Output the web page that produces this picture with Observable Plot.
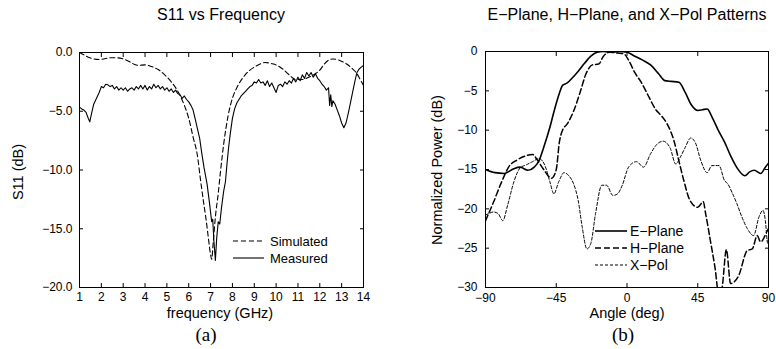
<!DOCTYPE html>
<html>
<head>
<meta charset="utf-8">
<script src="https://cdn.jsdelivr.net/npm/d3@7"></script>
<script src="https://cdn.jsdelivr.net/npm/@observablehq/plot@0.6"></script>
<style>
  html, body { margin: 0; padding: 0; background: #fff; }
  #wrap { position: relative; width: 776px; height: 349px; overflow: hidden; font-family: "Liberation Sans", Arial, Helvetica, sans-serif; color: #000; }
  .t { position: absolute; white-space: nowrap; line-height: 1; }
</style>
</head>
<body>
<div id="wrap">
  <div id="left" style="position:absolute;left:0;top:0"></div>
  <div id="right" style="position:absolute;left:390px;top:0"></div>
</div>
<script>
// ---------- Panel (a): S11 vs Frequency ----------
const measFreq = [1.0,1.1,1.2,1.3,1.4,1.47,1.55,1.65,1.8,1.9,2.0,2.1,2.2,2.3,2.4,2.5,2.6,2.7,2.8,2.9,3.0,3.1,3.2,3.3,3.4,3.5,3.6,3.7,3.8,3.9,4.0,4.1,4.2,4.3,4.4,4.5,4.6,4.7,4.8,4.9,5.0,5.1,5.2,5.3,5.4,5.5,5.6,5.7,5.8,5.9,6.0,6.1,6.2,6.3,6.4,6.5,6.6,6.7,6.8,6.84,6.95,7.05,7.1,7.15,7.22,7.28,7.35,7.42,7.5,7.6,7.68,7.75,7.83,7.91,8.0,8.1,8.2,8.3,8.4,8.5,8.6,8.7,8.8,8.9,9.0,9.1,9.2,9.3,9.4,9.5,9.6,9.7,9.8,9.9,10.0,10.1,10.2,10.3,10.4,10.5,10.6,10.7,10.8,10.9,11.0,11.1,11.2,11.3,11.4,11.5,11.6,11.7,11.8,11.9,12.0,12.1,12.2,12.3,12.4,12.45,12.5,12.55,12.6,12.7,12.8,12.9,13.0,13.1,13.2,13.3,13.4,13.5,13.6,13.7,13.8,13.9,14.0];
const measured = [-4.65,-4.8,-4.9,-5.1,-5.6,-5.9,-5.2,-4.4,-3.8,-3.4,-2.9,-3.0,-2.7,-2.75,-2.9,-2.8,-3.1,-2.9,-3.2,-3.0,-3.2,-3.0,-3.3,-3.1,-3.0,-3.2,-2.9,-3.1,-2.8,-3.1,-2.8,-3.2,-2.9,-3.1,-2.7,-3.0,-2.8,-3.1,-2.9,-3.2,-3.0,-3.3,-3.1,-3.4,-3.2,-3.5,-3.6,-3.9,-3.7,-4.0,-4.2,-4.5,-4.9,-5.7,-6.5,-7.3,-8.6,-9.8,-10.8,-11.2,-12.8,-14.4,-14.2,-16.0,-17.7,-15.8,-14.4,-14.6,-13.2,-11.8,-11.0,-9.5,-8.0,-6.8,-5.6,-4.8,-4.3,-4.0,-3.7,-3.5,-3.3,-3.1,-2.9,-2.8,-2.5,-2.6,-2.3,-2.6,-2.5,-2.8,-2.4,-2.9,-2.6,-3.0,-3.4,-2.8,-2.7,-2.9,-2.5,-2.7,-2.4,-2.6,-2.2,-2.5,-2.1,-2.4,-1.9,-2.2,-1.7,-2.0,-1.7,-2.1,-1.8,-2.2,-2.4,-2.7,-2.9,-3.2,-3.0,-4.5,-3.6,-4.6,-4.1,-4.4,-4.9,-5.4,-6.0,-6.4,-6.0,-5.2,-4.3,-3.4,-2.5,-1.7,-1.4,-1.25,-1.1];

const simFreq = [1.0,1.2,1.4,1.65,1.9,2.1,2.4,2.7,3.0,3.2,3.5,3.7,4.0,4.3,4.6,4.9,5.2,5.5,5.8,6.0,6.2,6.4,6.55,6.7,6.8,6.9,7.0,7.05,7.12,7.22,7.35,7.45,7.6,7.8,7.95,8.2,8.5,8.8,9.0,9.3,9.5,9.8,10.05,10.3,10.6,10.9,11.2,11.5,11.8,12.0,12.2,12.4,12.6,12.8,13.0,13.25,13.5,13.7,13.85,14.0];
const simulated = [0.0,-0.2,-0.4,-0.55,-0.6,-0.55,-0.45,-0.45,-0.55,-0.7,-1.0,-1.1,-1.05,-1.2,-1.45,-1.9,-2.5,-3.3,-4.5,-5.6,-7.2,-8.8,-11.0,-13.0,-14.3,-15.8,-17.2,-17.6,-16.2,-14.0,-12.0,-10.2,-7.8,-5.4,-4.2,-3.0,-2.1,-1.5,-1.25,-0.95,-0.85,-0.95,-1.1,-1.4,-1.9,-2.3,-2.3,-2.1,-1.8,-1.5,-1.0,-0.65,-0.55,-0.6,-0.75,-1.0,-1.4,-1.8,-2.3,-2.8];

const freqTicks = [1,2,3,4,5,6,7,8,9,10,11,12,13,14];
const freqTickLabels = ["1","2","3","4","5","6","7","8","9","10","11","12","13","14"];
const s11Ticks = [0,-5,-10,-15,-20];
const s11TickLabels = ["0.0","\u22125.0","\u221210.0","\u221215.0","\u221220.0"];

// ---------- Panel (b): patterns ----------
const eAngle = [-90,-84,-78,-72,-68,-63,-59,-56,-53,-49,-46,-43,-41,-38,-35,-31,-27,-23,-19,-15,-10,-5,0,5,10,15,20,24,28,33,37,41,45,48,51,54,58,62,66,70,75,78,81,85,88,90];
const ePlane = [-15.0,-15.4,-15.5,-14.9,-14.7,-15.1,-14.7,-13.9,-12.2,-9.6,-7.3,-5.3,-4.3,-4.0,-3.4,-2.5,-1.5,-0.6,-0.1,0,-0.1,0,-0.1,-0.6,-1.1,-1.7,-2.8,-3.7,-3.8,-3.9,-5.2,-6.8,-7.5,-7.4,-7.3,-8.3,-10.0,-11.5,-13.3,-14.8,-15.8,-15.3,-15.1,-15.5,-14.7,-14.2];

const hAngle = [-90,-85,-80,-75,-70,-65,-60,-57,-53,-48,-45,-43,-41,-38,-34,-30,-26,-22,-18,-15,-11,-6,-2,1,5,9,14,18,22,25.5,29.8,33,36,40,45,48.5,50,53,56,58.5,60.5,63.2,65.9,71,76.5,79.7,82.8,85,89.2,90];
const hPlane = [-21.5,-19.2,-16.7,-14.6,-13.8,-13.3,-13.1,-13.8,-15.0,-16.1,-15.0,-11.5,-10.0,-9.2,-7.6,-5.3,-2.8,-1.7,-1.6,-0.6,-0.1,-0.2,-0.3,-1.1,-2.7,-3.9,-5.8,-7.3,-8.2,-9.2,-11.3,-13.9,-16.3,-18.9,-19.8,-19.1,-20.6,-24.0,-27.5,-31.0,-30.0,-25.2,-29.5,-28.5,-25.3,-25.1,-23.4,-24.2,-22.8,-22.5];

const xAngle = [-90,-88,-85,-82,-79,-76,-72,-68,-64,-60,-56,-52,-49,-46.5,-43.5,-40,-37,-34,-31,-28.5,-25.5,-23,-20,-16,-13,-9,-6,-3,1,6,10.5,15,19,23,27.5,31,34,37,40.5,43.5,47,51,54,58.5,62,64,67,70,73,76.5,80.5,84,86.5,88,89.5,90];
const xPol = [-20.8,-20.6,-20.4,-20.6,-21.5,-19.6,-16.6,-14.8,-14.4,-14.0,-13.6,-14.6,-16.6,-18.1,-16.6,-15.4,-15.8,-16.8,-19.0,-22.3,-25.1,-24.4,-20.6,-17.0,-17.0,-18.3,-18.1,-17.0,-14.7,-14.0,-14.7,-13.0,-11.8,-11.4,-12.3,-14.3,-13.4,-12.2,-11.0,-11.6,-13.9,-15.4,-14.5,-14.5,-16.4,-16.8,-18.0,-19.4,-21.0,-22.5,-23.4,-21.0,-20.2,-21.5,-24.4,-23.5];

const angleTicks = [-90,-45,0,45,90];
const angleTickLabels = ["\u221290","\u221245","0","45","90"];
const powerTicks = [0,-5,-10,-15,-20,-25,-30];
const powerTickLabels = ["0","\u22125","\u221210","\u221215","\u221220","\u221225","\u221230"];

const legendA = ["Simulated","Measured"];
const legendB = ["E\u2212Plane","H\u2212Plane","X\u2212Pol"];

// ---------- build tables ----------
const measData = measFreq.map((f, i) => ({f, s: measured[i]}));
const simData = simFreq.map((f, i) => ({f, s: simulated[i]}));
const eData = eAngle.map((a, i) => ({a, p: ePlane[i]}));
const hData = hAngle.map((a, i) => ({a, p: hPlane[i]}));
const xData = xAngle.map((a, i) => ({a, p: xPol[i]}));

const FONT = '"Liberation Sans", Arial, Helvetica, sans-serif';

function lookup(ticks, labels) { return d => labels[ticks.indexOf(d)]; }

const left = Plot.plot({
  width: 390, height: 349,
  marginLeft: 79, marginRight: 27, marginTop: 52, marginBottom: 62,
  style: {fontFamily: FONT, fontSize: "12px", color: "#000", background: "transparent", overflow: "visible"},
  x: {domain: [1, 14]},
  y: {domain: [-20, 0]},
  marks: [
    Plot.axisX(freqTicks, {anchor: "bottom", tickSize: -4, fill: "none", label: null}),
    Plot.axisX(freqTicks, {anchor: "top", tickSize: -4, fill: "none", label: null}),
    Plot.axisY(s11Ticks, {anchor: "left", tickSize: -4, fill: "none", label: null}),
    Plot.axisY(s11Ticks, {anchor: "right", tickSize: -4, fill: "none", label: null}),
    Plot.axisX(freqTicks, {anchor: "bottom", tickSize: 0, tickPadding: 5, label: null, tickFormat: lookup(freqTicks, freqTickLabels)}),
    Plot.axisY(s11Ticks, {anchor: "left", tickSize: 0, tickPadding: 7, label: null, tickFormat: lookup(s11Ticks, s11TickLabels)}),
    Plot.line(simData, {x: "f", y: "s", stroke: "#000", strokeWidth: 1.1, strokeDasharray: "5,3", curve: "monotone-x"}),
    Plot.line(measData, {x: "f", y: "s", stroke: "#000", strokeWidth: 1.1, curve: "linear"}),
    Plot.frame({stroke: "#000", strokeWidth: 1})
  ]
});
document.getElementById("left").appendChild(left);

const right = Plot.plot({
  width: 386, height: 349,
  marginLeft: 95, marginRight: 8, marginTop: 51, marginBottom: 62,
  style: {fontFamily: FONT, fontSize: "12px", color: "#000", background: "transparent", overflow: "visible"},
  x: {domain: [-90, 90]},
  y: {domain: [-30, 0]},
  marks: [
    Plot.axisX(angleTicks, {anchor: "bottom", tickSize: -4, fill: "none", label: null}),
    Plot.axisX(angleTicks, {anchor: "top", tickSize: -4, fill: "none", label: null}),
    Plot.axisY(powerTicks, {anchor: "left", tickSize: -4, fill: "none", label: null}),
    Plot.axisY(powerTicks, {anchor: "right", tickSize: -4, fill: "none", label: null}),
    Plot.axisX(angleTicks, {anchor: "bottom", tickSize: 0, tickPadding: 6, label: null, tickFormat: lookup(angleTicks, angleTickLabels)}),
    Plot.axisY(powerTicks, {anchor: "left", tickSize: 0, tickPadding: 8, label: null, tickFormat: lookup(powerTicks, powerTickLabels)}),
    Plot.line(xData, {x: "a", y: "p", stroke: "#000", strokeWidth: 1, strokeDasharray: "3,2", curve: "monotone-x", clip: true}),
    Plot.line(hData, {x: "a", y: "p", stroke: "#000", strokeWidth: 1.5, strokeDasharray: "6,3", curve: "monotone-x", clip: true}),
    Plot.line(eData, {x: "a", y: "p", stroke: "#000", strokeWidth: 1.6, curve: "monotone-x", clip: true}),
    Plot.frame({stroke: "#000", strokeWidth: 1})
  ]
});
document.getElementById("right").appendChild(right);

// ---------- text ----------
const wrap = document.getElementById("wrap");
function addText(str, x, y, size, {rotate = false, serif = false, anchor = "middle"} = {}) {
  const d = document.createElement("div");
  d.className = "t";
  d.textContent = str;
  d.style.left = x + "px";
  d.style.top = y + "px";
  d.style.fontSize = size + "px";
  if (serif) d.style.fontFamily = '"Liberation Serif", "DejaVu Serif", serif';
  const tx = anchor === "start" ? "0" : "-50%";
  d.style.transform = `translate(${tx}, -50%)` + (rotate ? " rotate(-90deg)" : "");
  wrap.appendChild(d);
  return d;
}
addText("S11 vs Frequency", 221, 15, 16);
addText("E\u2212Plane, H\u2212Plane, and X\u2212Pol Patterns", 627, 15, 16);
addText("S11 (dB)", 18, 172, 14.5, {rotate: true});
addText("Normalized Power (dB)", 437, 170, 14.5, {rotate: true});
addText("frequency (GHz)", 220, 313, 14.5);
addText("Angle (deg)", 627, 313, 14.5);
addText("(a)", 206, 334, 19, {serif: true});
addText("(b)", 623, 334, 19, {serif: true});

// ---------- legends ----------
function swatch(x1, x2, y, width, dash) {
  const ns = "http://www.w3.org/2000/svg";
  const s = document.createElementNS(ns, "svg");
  s.setAttribute("width", x2 - x1);
  s.setAttribute("height", 6);
  s.style.position = "absolute";
  s.style.left = x1 + "px";
  s.style.top = (y - 3) + "px";
  const l = document.createElementNS(ns, "line");
  l.setAttribute("x1", 0); l.setAttribute("x2", x2 - x1);
  l.setAttribute("y1", 3); l.setAttribute("y2", 3);
  l.setAttribute("stroke", "#000");
  l.setAttribute("stroke-width", width);
  if (dash) l.setAttribute("stroke-dasharray", dash);
  s.appendChild(l);
  wrap.appendChild(s);
}
const legAStyles = [[1.1, "5,3"], [1.1, null]];
legendA.forEach((name, i) => {
  const y = 241 + i * 16.5;
  swatch(233, 264, y, legAStyles[i][0], legAStyles[i][1]);
  addText(name, 270, y, 13, {anchor: "start"});
});
const legBStyles = [[1.6, null], [1.5, "6,3"], [1, "3,2"]];
legendB.forEach((name, i) => {
  const y = 231 + i * 17;
  swatch(595, 627, y, legBStyles[i][0], legBStyles[i][1]);
  addText(name, 630, y, 14, {anchor: "start"});
});
</script>
</body>
</html>
